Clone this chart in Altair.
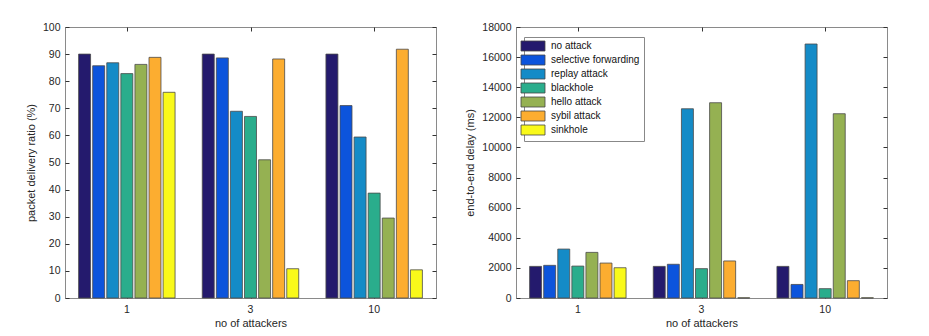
import altair as alt
import pandas as pd

groups = ["1", "3", "10"]
series = ["no attack", "selective forwarding", "replay attack", "blackhole",
          "hello attack", "sybil attack", "sinkhole"]
colors = ["#241a6d", "#0c54dc", "#148bc7", "#2aad8c", "#95b152", "#fcad30", "#f9f91a"]

pdr_1 = [90.0, 85.7, 86.8, 82.8, 86.2, 88.8, 75.9]
pdr_3 = [90.0, 88.6, 68.9, 67.0, 51.0, 88.2, 10.8]
pdr_10 = [90.0, 71.0, 59.4, 38.7, 29.5, 91.8, 10.4]

delay_1 = [2100, 2170, 3250, 2120, 3030, 2320, 2010]
delay_3 = [2100, 2240, 12570, 1950, 12970, 2460, 15]
delay_10 = [2100, 900, 16870, 620, 12240, 1150, 15]


def build_df(rows):
    recs = []
    for g, vals in zip(groups, rows):
        for s, v in zip(series, vals):
            recs.append({"group": g, "series": s, "value": v})
    return pd.DataFrame(recs)


df_pdr = build_df([pdr_1, pdr_3, pdr_10])
df_delay = build_df([delay_1, delay_3, delay_10])

W, H = 371, 271
TICK = "#333333"


def panel(df, ytitle, ymax, ystep, legend):
    xs = alt.Scale(domain=groups, paddingInner=0.22, paddingOuter=0.11)
    ys = alt.Scale(domain=[0, ymax], nice=False, zero=True)
    ticks = list(range(0, ymax + 1, ystep))
    bars = alt.Chart(df).mark_bar(stroke="#4a4a4a", strokeWidth=0.8).encode(
        x=alt.X("group:N", scale=xs, sort=groups, title="no of attackers",
                axis=alt.Axis(orient="bottom", ticks=False, domain=False, labelAngle=0,
                              labelPadding=6, titlePadding=3)),
        xOffset=alt.XOffset("series:N", sort=series,
                            scale=alt.Scale(domain=series, paddingInner=0.15, paddingOuter=0)),
        y=alt.Y("value:Q", scale=ys, title=ytitle,
                axis=alt.Axis(orient="left", values=ticks, ticks=False, domain=False,
                              format="d", labelPadding=5, titlePadding=6)),
        color=alt.Color("series:N", sort=series,
                        scale=alt.Scale(domain=series, range=colors), legend=legend),
    )
    inv_a = alt.Chart(df).mark_point(opacity=0).encode(
        x=alt.X("group:N", scale=xs, sort=groups, title=None,
                axis=alt.Axis(orient="top", offset=-H, labels=False, domain=False,
                              tickSize=4, tickColor=TICK)),
        y=alt.Y("value:Q", scale=ys, title=None,
                axis=alt.Axis(orient="right", offset=-W, values=ticks, labels=False,
                              domain=False, tickSize=4, tickColor=TICK)),
    )
    inv_b = alt.Chart(df).mark_point(opacity=0).encode(
        x=alt.X("group:N", scale=xs, sort=groups, title=None,
                axis=alt.Axis(orient="bottom", offset=-H, labels=False, domain=False,
                              tickSize=4, tickColor=TICK)),
        y=alt.Y("value:Q", scale=ys, title=None,
                axis=alt.Axis(orient="left", offset=-W, values=ticks, labels=False,
                              domain=False, tickSize=4, tickColor=TICK)),
    )
    return alt.layer(bars, inv_a, inv_b).resolve_scale(x="independent", y="independent").properties(
        width=W, height=H)


legend = alt.Legend(orient="none", legendX=8, legendY=10, title=None,
                    fillColor="white", strokeColor="#888888", padding=4,
                    symbolType="M-12,-5H12V5H-12Z", symbolSize=4,
                    symbolStrokeColor="#444444", symbolStrokeWidth=0.8,
                    labelFontSize=10, labelOffset=13, rowPadding=0,
                    labelColor="#111111")

left = panel(df_pdr, "packet delivery ratio (%)", 100, 10, None)
right = panel(df_delay, "end-to-end delay (ms)", 18000, 2000, legend)

chart = alt.hconcat(left, right, spacing=27).resolve_legend(color="independent").properties(
    padding={"left": 24, "top": 21, "right": 40, "bottom": 4}
).configure(
    font="Liberation Sans"
).configure_axis(
    grid=False, labelFontSize=10.5, labelColor="#262626", titleFontSize=11,
    titleFontWeight="normal", titleColor="#262626"
).configure_view(stroke="#8a8a8a", strokeWidth=1)

chart.save("out.html", embed_options={"renderer": "svg", "actions": False})
